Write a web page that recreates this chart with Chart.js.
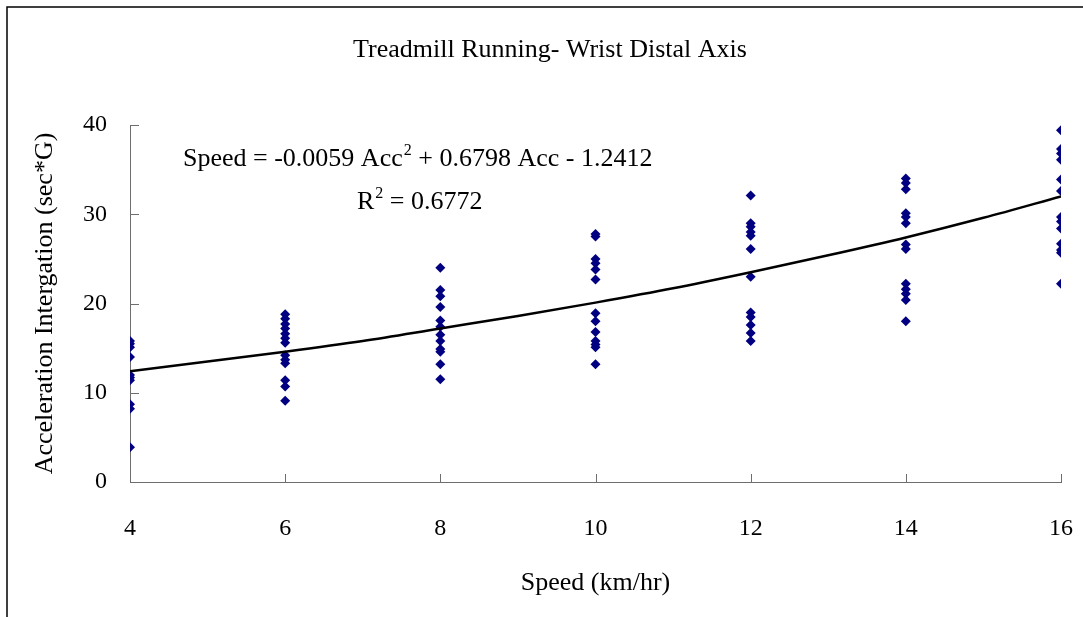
<!DOCTYPE html>
<html>
<head>
<meta charset="utf-8">
<title>Treadmill Running- Wrist Distal Axis</title>
<script src="https://cdn.jsdelivr.net/npm/chart.js@4/dist/chart.umd.min.js"></script>
<style>
  html, body { margin: 0; padding: 0; background: #fff; overflow: hidden; }
  #grafico { display: block; }
</style>
</head>
<body>
<canvas id="grafico" width="1083" height="617"></canvas>
<script>
// Velocidades da esteira (km/h)
const velocidades = [4, 6, 8, 10, 12, 14, 16];

// Integral da aceleração medida em cada velocidade (sec*G)
const acc4 = [15.8, 15.5, 15.1, 14.0, 12.0, 11.7, 11.4, 8.7, 8.2, 3.9];
const acc6 = [18.8, 18.3, 17.7, 17.2, 16.6, 16.1, 15.6, 14.2, 13.7, 13.3, 11.4, 10.7, 9.1];
const acc8 = [24.0, 21.5, 20.8, 19.6, 18.1, 17.4, 16.5, 15.8, 14.9, 14.6, 13.2, 11.5];
const acc10 = [27.8, 27.5, 25.0, 24.5, 23.8, 22.7, 18.9, 18.0, 16.8, 15.8, 15.4, 15.1, 13.2];
const acc12 = [32.1, 29.0, 28.6, 28.0, 27.6, 26.1, 23.0, 19.0, 18.5, 17.6, 16.7, 15.8];
const acc14 = [34.0, 33.5, 32.8, 30.1, 29.7, 29.0, 26.6, 26.1, 22.2, 21.6, 21.1, 20.4, 18.0];
const acc16 = [39.4, 37.3, 36.8, 36.1, 33.9, 32.6, 29.7, 29.2, 28.4, 26.7, 26.0, 25.7, 22.2];
const medidas = [acc4, acc6, acc8, acc10, acc12, acc14, acc16];

// Linha de tendência (polinomial de 2a ordem)
const tendenciaVel = [4, 5, 6, 7, 8, 9, 10, 11, 12, 13, 14, 15, 16];
const tendenciaAcc = [12.4, 13.5, 14.6, 15.8, 17.2, 18.6, 20.1, 21.7, 23.5, 25.4, 27.4, 29.6, 32.0];

// Eixos
const ticksX = [4, 6, 8, 10, 12, 14, 16];
const ticksY = [0, 10, 20, 30, 40];

const titulo = 'Treadmill Running- Wrist Distal Axis';
const fonte = 'Liberation Serif, Times New Roman, serif';
const corEixo = '#6e6e6e';

// Monta os pontos do gráfico de dispersão
const pontos = [];
velocidades.forEach((v, i) => {
    medidas[i].forEach(a => pontos.push({ x: v, y: a }));
});

const linha = tendenciaVel.map((v, i) => ({ x: v, y: tendenciaAcc[i] }));

// Moldura externa, título, marcas de escala voltadas para dentro e equação
const pluginMoldura = {
    id: 'moldura',
    beforeDraw(chart) {
        const ctx = chart.ctx;
        ctx.save();
        ctx.fillStyle = '#fff';
        ctx.fillRect(0, 0, chart.width, chart.height);
        ctx.strokeStyle = '#000';
        ctx.lineWidth = 1.5;
        ctx.strokeRect(7, 7, chart.width + 50, chart.height + 50);

        ctx.fillStyle = '#000';
        ctx.font = '26px ' + fonte;
        ctx.textAlign = 'center';
        ctx.textBaseline = 'middle';
        ctx.fillText(titulo, 550, 50);
        ctx.restore();
    },
    afterDatasetsDraw(chart) {
        const ctx = chart.ctx;
        const { left, bottom } = chart.chartArea;
        const sx = chart.scales.x;
        const sy = chart.scales.y;
        ctx.save();
        ctx.strokeStyle = corEixo;
        ctx.lineWidth = 1;
        ctx.beginPath();
        ticksY.forEach(t => {
            const py = Math.round(sy.getPixelForValue(t)) + 0.5;
            ctx.moveTo(left, py);
            ctx.lineTo(left + 9, py);
        });
        ticksX.forEach(t => {
            const px = Math.round(sx.getPixelForValue(t)) + 0.5;
            ctx.moveTo(px, bottom);
            ctx.lineTo(px, bottom - 8);
        });
        ctx.stroke();

        // Equação e R² da tendência
        ctx.fillStyle = '#000';
        ctx.textBaseline = 'alphabetic';
        ctx.font = '26px ' + fonte;
        let x = 183;
        const y1 = 166;
        const partes = ['Speed = -0.0059 Acc', '2', ' + 0.6798 Acc - 1.2412'];
        partes.forEach((p, i) => {
            if (i === 1) {
                ctx.font = '16px ' + fonte;
                ctx.fillText(p, x + 1, y1 - 11);
                x += ctx.measureText(p).width + 1;
                ctx.font = '26px ' + fonte;
            } else {
                ctx.fillText(p, x, y1);
                x += ctx.measureText(p).width;
            }
        });
        const y2 = 209;
        x = 357;
        ctx.fillText('R', x, y2);
        x += ctx.measureText('R').width;
        ctx.font = '16px ' + fonte;
        ctx.fillText('2', x + 1, y2 - 11);
        x += ctx.measureText('2').width + 1;
        ctx.font = '26px ' + fonte;
        ctx.fillText(' = 0.6772', x, y2);
        ctx.restore();
    }
};

const config = {
    type: 'scatter',
    data: {
        datasets: [
            {
                type: 'line',
                data: linha,
                borderColor: '#000',
                borderWidth: 2.5,
                pointRadius: 0,
                cubicInterpolationMode: 'monotone',
                fill: false,
                order: 0
            },
            {
                data: pontos,
                pointStyle: 'rectRot',
                pointRadius: 5,
                backgroundColor: '#000080',
                borderColor: '#000080',
                borderWidth: 0,
                order: 1
            }
        ]
    },
    options: {
        responsive: false,
        animation: false,
        layout: { padding: { left: 0, right: 22, top: 125, bottom: 0 } },
        plugins: {
            legend: { display: false },
            tooltip: { enabled: false },
            title: { display: false }
        },
        scales: {
            x: {
                type: 'linear',
                min: 4,
                max: 16,
                afterFit: s => {
                    s.height = 135;
                    s.paddingLeft = 0;
                    s.paddingRight = 0;
                },
                afterBuildTicks: s => { s.ticks = ticksX.map(v => ({ value: v })); },
                grid: { display: true, drawOnChartArea: false, drawTicks: false },
                border: { display: true, color: corEixo, width: 1 },
                ticks: {
                    padding: 32,
                    color: '#000',
                    font: { family: fonte, size: 24 }
                },
                title: {
                    display: true,
                    text: 'Speed (km/hr)',
                    color: '#000',
                    font: { family: fonte, size: 26 },
                    padding: { top: 0, bottom: 18.4 }
                }
            },
            y: {
                type: 'linear',
                min: 0,
                max: 40,
                afterFit: s => {
                    s.width = 130;
                    s.paddingTop = 0;
                    s.paddingBottom = 0;
                },
                afterBuildTicks: s => { s.ticks = ticksY.map(v => ({ value: v })); },
                grid: { display: true, drawOnChartArea: false, drawTicks: false },
                border: { display: true, color: corEixo, width: 1 },
                ticks: {
                    padding: 23,
                    color: '#000',
                    font: { family: fonte, size: 24 }
                },
                title: {
                    display: true,
                    text: 'Acceleration Intergation (sec*G)',
                    color: '#000',
                    font: { family: fonte, size: 26 },
                    padding: { top: 29.4, bottom: 0 }
                }
            }
        }
    },
    plugins: [pluginMoldura]
};

window.onload = function() {
    const ctx = document.getElementById('grafico').getContext('2d');
    new Chart(ctx, config);
};
</script>
</body>
</html>
